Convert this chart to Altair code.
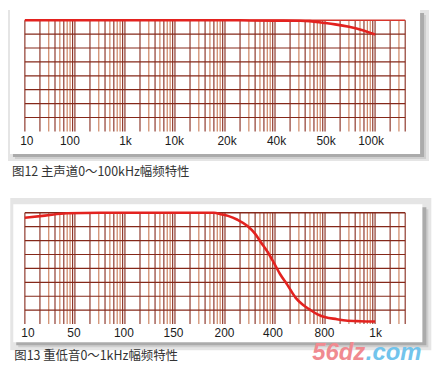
import math
import altair as alt
import pandas as pd

# ---------------- data ----------------
W, H = 383, 112
X_MAX = 7 + math.log10(4)          # log-paper spans 7.6 decades

top_tick_labels = ["10", "100", "1k", "10k", "20k", "40k", "50k", "100k"]
top_tick_pos = [0.03, 0.89, 2.0, 2.98, 4.03, 5.02, 6.01, 6.91]
top_curve_x = [0, 1, 2, 3, 4, 4.5, 5.0, 5.5, 5.7, 5.95, 6.2, 6.48, 6.75, 7.0]
top_curve_y = [0, 0, 0, 0, 0, -0.02, -0.03, -0.04, -0.07, -0.18, -0.3, -0.48, -0.72, -1.03]

bot_tick_labels = ["10", "50", "100", "150", "200", "400", "800", "1k"]
bot_tick_pos = [0.05, 0.97, 1.97, 2.96, 3.98, 4.95, 5.98, 7.0]
bot_curve_x = [0, 0.4, 0.84, 1.5, 3.0, 3.78, 3.92, 4.06, 4.25, 4.45, 4.6, 4.72, 4.85,
               4.97, 5.1, 5.25, 5.41, 5.55, 5.69, 5.85, 6.01, 6.24, 6.41, 6.7, 7.0]
bot_curve_y = [-0.36, -0.2, -0.03, 0, 0, 0, -0.1, -0.22, -0.5, -0.95, -1.5, -2.13, -2.8,
               -3.55, -4.4, -5.2, -6.1, -6.6, -6.95, -7.3, -7.52, -7.65, -7.75, -7.8, -7.82]

captions = ["图12  主声道0～100kHz幅频特性", "图13  重低音0～1kHz幅频特性"]
watermark = ["56dz", ".com"]

# log-paper grid structure
decades = list(range(8))
minor_steps = list(range(1, 10))
minor_shade = ["dark", "dark", "light", "dark", "light", "dark", "light", "light", "dark"]
h_lines = [-1, -2, -3, -4, -5, -6, -7]

vgrid = pd.DataFrame(
    [{"x": d + math.log10(k), "shade": minor_shade[k - 1]}
     for d in decades for k in minor_steps if d + math.log10(k) <= X_MAX + 1e-9]
)
hgrid = pd.DataFrame({"y": h_lines})
top_line = pd.DataFrame({"y": [0]})
one = pd.DataFrame({"a": [0]})

RED = "#e3221f"
DARK = "#85281a"
LIGHT = "#c97a55"

xscale = alt.Scale(domain=[0, X_MAX], nice=False, zero=False)
yscale = alt.Scale(domain=[-8, 0], nice=False, zero=False)


def x_enc(pos, labels):
    expr = ("[" + ",".join("'%s'" % l for l in labels) + "][indexof(["
            + ",".join(str(p) for p in pos) + "], datum.value)]")
    return alt.X("x:Q", scale=xscale,
                 axis=alt.Axis(values=pos, labelExpr=expr, domain=False, ticks=False,
                               grid=False, labelPadding=4, labelFontSize=12,
                               labelFont="Liberation Sans", labelColor="#1a1a1a",
                               labelFlush=False, labelOverlap=False, zindex=2, title=None))


def box(x1, x2, y1, y2, color):
    return alt.Chart(one).mark_rect(color=color).encode(
        x=alt.value(x1), x2=alt.value(x2), y=alt.value(y1), y2=alt.value(y2))


def panel(cx, cy, pos, labels, frame, card, band, caption, cap_xy, top_color, extras):
    xe = x_enc(pos, labels)
    ye = alt.Y("y:Q", scale=yscale, axis=None)
    curve = pd.DataFrame({"x": cx, "y": cy})
    fx1, fx2, fy1, fy2 = frame
    kx1, kx2, ky1, ky2 = card
    layers = [
        box(fx1, fx2, fy1, fy2, "#e5e5e5"),
        box(kx1 + 5, kx2 + 6, ky1 + 5, ky2 + 5, "#cfcfcf"),
        box(kx1 + 3, kx2 + 4, ky1 + 3, ky2 + 3, "#ababab"),
        box(kx1, kx2, ky1, ky2, "white"),
    ]
    if band is not None:
        layers.append(box(*band, "white"))
    layers += [
        alt.Chart(vgrid).mark_rule(strokeWidth=1.1).encode(
            x=xe,
            color=alt.Color("shade:N", scale=alt.Scale(domain=["dark", "light"],
                                                        range=[DARK, LIGHT]), legend=None)),
        alt.Chart(hgrid).mark_rule(strokeWidth=1.2, color=DARK).encode(y=ye),
        alt.Chart(top_line).mark_rule(strokeWidth=1.5, color=top_color).encode(y=ye),
        alt.Chart(curve).mark_line(color=RED, strokeWidth=2.6, interpolate="monotone").encode(
            x=xe, y=ye),
        alt.Chart(one).mark_text(align="left", baseline="middle", fontSize=12.5,
                                 font="Noto Sans CJK SC", color="#333333").encode(
            x=alt.value(cap_xy[0]), y=alt.value(cap_xy[1]), text=alt.value(caption)),
    ]
    layers += extras
    return alt.layer(*layers).properties(width=W, height=H)


top = panel(top_curve_x, top_curve_y, top_tick_pos, top_tick_labels,
            frame=(-17, 407, -10.3, 141.7), card=(-15, 398, -10.3, 134.7),
            band=(-17, 407, 141.7, 178.4), caption=captions[0], cap_xy=(-13, 152.7),
            top_color="#d8352c", extras=[])

wm = [
    alt.Chart(one).mark_text(align="left", baseline="alphabetic", fontSize=24,
                             font="Liberation Sans", fontWeight="bold", fontStyle="italic",
                             color="#f08a90").encode(
        x=alt.value(289.3), y=alt.value(148.0), text=alt.value(watermark[0])),
    alt.Chart(one).mark_text(align="left", baseline="alphabetic", fontSize=24,
                             font="Liberation Sans", fontWeight="bold", fontStyle="italic",
                             color="#72c4ec").encode(
        x=alt.value(343.3), y=alt.value(148.0), text=alt.value(watermark[1])),
]

bottom = panel(bot_curve_x, bot_curve_y, bot_tick_pos, bot_tick_labels,
               frame=(-14.7, 409.3, -15, 138.3), card=(-11.7, 400.3, -8.7, 130.3),
               band=None, caption=captions[1], cap_xy=(-10.7, 144.3),
               top_color=DARK, extras=wm)

chart = alt.vconcat(top, bottom, spacing=0).properties(
    padding=0, background="white"
).configure_view(strokeWidth=0)

chart.save("out.html", embed_options={"renderer": "svg", "actions": False})
